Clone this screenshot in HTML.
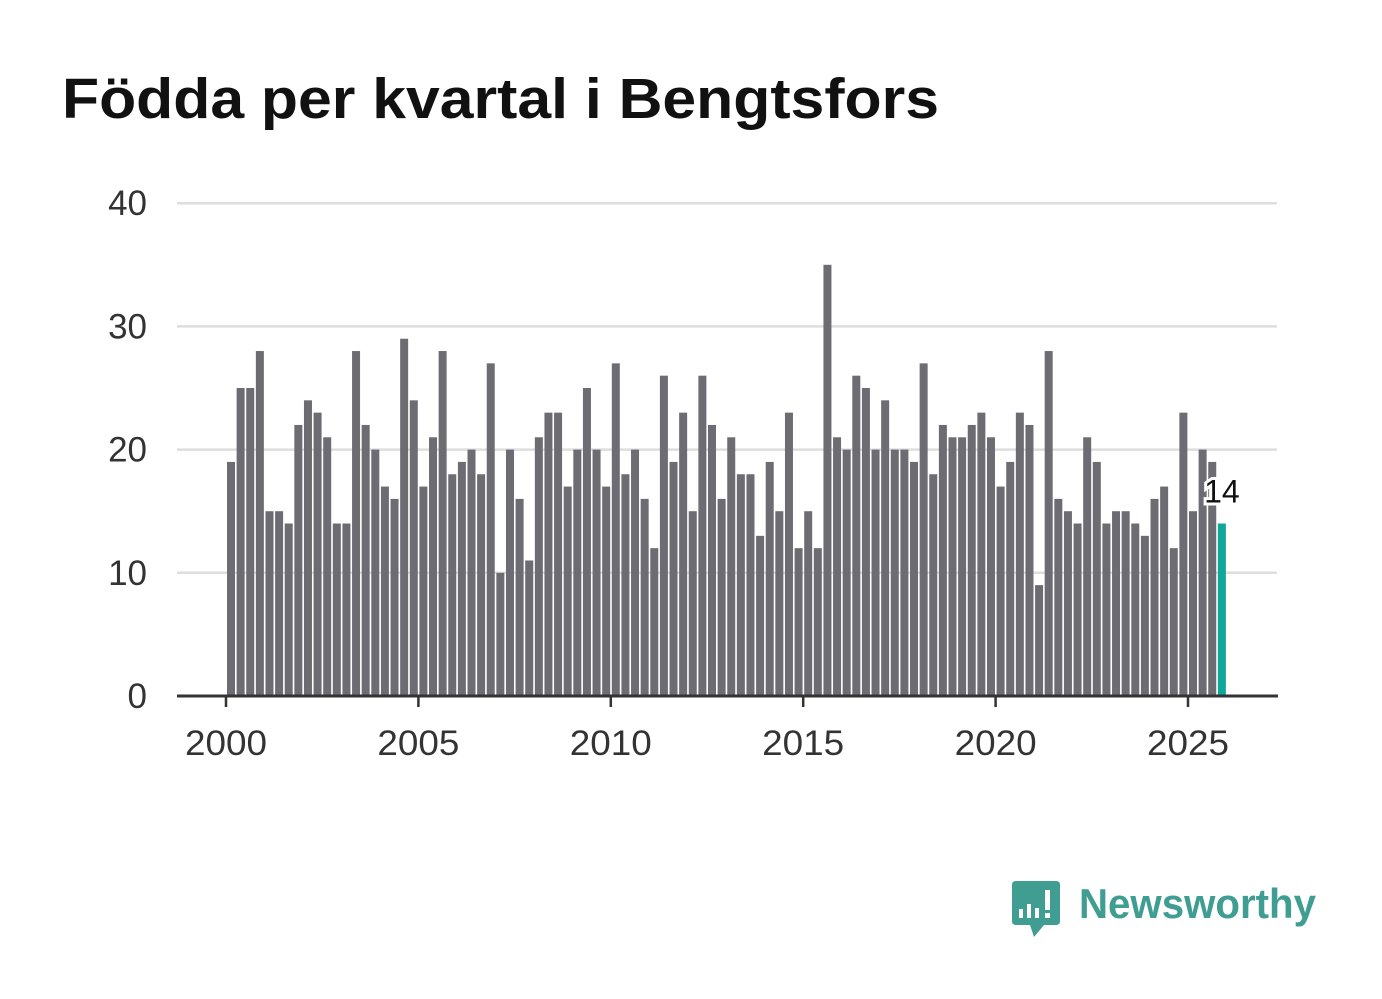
<!DOCTYPE html>
<html><head><meta charset="utf-8"><style>
html,body{margin:0;padding:0;background:#fff;}
svg{display:block;font-family:"Liberation Sans","DejaVu Sans",sans-serif;}
</style></head><body>
<svg id="chart" width="1382" height="999" viewBox="0 0 1382 999">
<text x="62" y="118" font-size="57" font-weight="bold" fill="#111" textLength="877" lengthAdjust="spacingAndGlyphs">Födda per kvartal i Bengtsfors</text>
<g id="grid"></g>
<g id="ylabels"></g>
<g id="bars"></g>
<g id="xaxis"></g>
<g id="lbl"></g>
<g>
<path d="M1016 881 H1056 Q1060 881 1060 885 V921 Q1060 925 1056 925 H1044 L1034 937 L1030 925 H1016 Q1012 925 1012 921 V885 Q1012 881 1016 881Z" fill="#3f9d92"/>
<rect x="1019" y="909" width="4" height="9" fill="#fff"/><rect x="1027" y="904" width="4" height="14" fill="#fff"/><rect x="1035" y="908" width="4" height="10" fill="#fff"/><rect x="1045" y="890" width="5" height="20" fill="#fff"/><rect x="1045" y="913" width="5" height="5" fill="#fff"/>
<text x="1079" y="918" font-size="42" font-weight="bold" fill="#3f9d92" textLength="237" lengthAdjust="spacingAndGlyphs">Newsworthy</text>
</g>
</svg>
<script>
const years = [2000,2001,2002,2003,2004,2005,2006,2007,2008,2009,2010,2011,2012,2013,2014,2015,2016,2017,2018,2019,2020,2021,2022,2023,2024,2025];
const births = [19,25,25,28, 15,15,14,22, 24,23,21,14, 14,28,22,20, 17,16,29,24, 17,21,28,18, 19,20,18,27, 10,20,16,11, 21,23,23,17, 20,25,20,17, 27,18,20,16, 12,26,19,23, 15,26,22,16, 21,18,18,13, 19,15,23,12, 15,12,35,21, 20,26,25,20, 24,20,20,19, 27,18,22,21, 21,22,23,21, 17,19,23,22, 9,28,16,15, 14,21,19,14, 15,15,14,13, 16,17,12,23, 15,20,19,14];
const yTicks = [0,10,20,30,40];
const xTicks = [2000,2005,2010,2015,2020,2025];
const NS='http://www.w3.org/2000/svg';
const y = v => 696 - v*12.32;
const x = t => 226 + (t-2000)*38.48;
function mk(tag, attrs, parent){const e=document.createElementNS(NS,tag);for(const k in attrs)e.setAttribute(k,attrs[k]);parent.appendChild(e);return e;}
const grid=document.getElementById('grid'), yl=document.getElementById('ylabels');
yTicks.forEach(v=>{
  if(v>0){const l=mk('line',{x1:177,x2:1277,y1:y(v),y2:y(v),stroke:'#dedede','stroke-width':2.5},grid);
  
  }
  const t=mk('text',{x:147,y:y(v)+12,'text-anchor':'end','font-size':35,fill:'#333'},yl);
  t.textContent=v;
  
  
});
const bars=document.getElementById('bars');
births.forEach((v,i)=>{
  const last=i===births.length-1;
  const r=mk('rect',{x:x(2000+i/4)+1,y:y(v),width:8,height:y(0)-y(v),fill:last?'#0fa79a':'#6d6c73'},bars);
  
  
});
const xa=document.getElementById('xaxis');
const ax=mk('line',{x1:177,x2:1278,y1:696,y2:696,stroke:'#333','stroke-width':3},xa);


xTicks.forEach(t=>{
  const tk=mk('line',{x1:x(t),x2:x(t),y1:696,y2:707,stroke:'#333','stroke-width':2.5},xa);
  
  
  const tx=mk('text',{x:x(t),y:755,'text-anchor':'middle','font-size':35,fill:'#333',textLength:82,lengthAdjust:'spacingAndGlyphs'},xa);
  tx.textContent=t;
  
  
});
const lv=births[births.length-1];
const lg=document.getElementById('lbl');
const lt=mk('text',{x:x(2000+(births.length-1)/4)+5,y:y(lv)-21,'text-anchor':'middle','font-size':32,fill:'#111',stroke:'#fff','stroke-width':6,'paint-order':'stroke'},lg);
lt.textContent=lv;


</script>
</body></html>
